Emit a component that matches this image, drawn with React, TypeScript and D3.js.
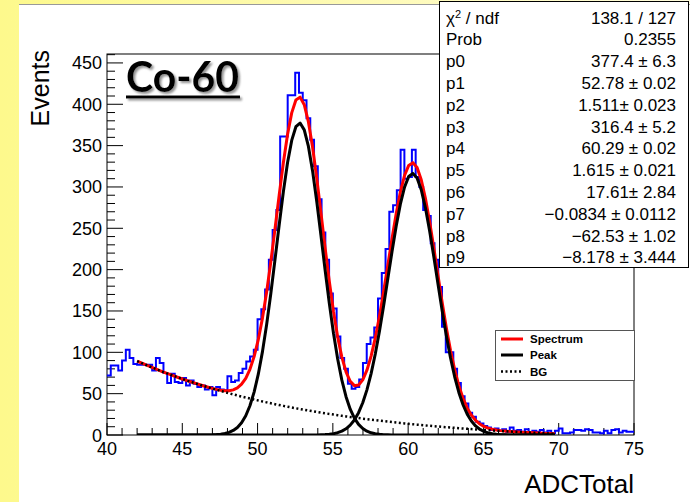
import React from 'react';
import * as d3 from 'd3';

// ---- data ----
const histLow = 40;
const histBinWidth = 0.25;
const counts = [
  72, 84, 84, 78, 90, 103, 93, 86, 85, 85,
  85, 85, 78, 93, 87, 75, 63, 74, 64, 63,
  69, 60, 66, 62, 58, 60, 55, 58, 48, 58,
  55, 54, 71, 64, 66, 75, 80, 89, 95, 103,
  140, 152, 176, 212, 248, 272, 361, 361, 411, 411,
  438, 414, 405, 383, 357, 325, 285, 245, 212, 171,
  153, 119, 93, 80, 62, 56, 58, 67, 87, 110,
  118, 130, 165, 196, 225, 270, 278, 296, 345, 310,
  312, 345, 312, 300, 272, 265, 232, 212, 179, 131,
  100, 100, 80, 63, 47, 38, 27, 22, 16, 14,
  11, 9, 6, 8, 5, 7, 4, 9, 5, 6,
  4, 7, 3, 5, 4, 6, 3, 5, 2, 5,
  8, 2, 2, 3, 6, 6, 5, 7, 6, 3,
  3, 2, 5, 2, 6, 7, 3, 5, 4, 4,
];
const fitParams = [377.4, 52.78, 1.511, 316.4, 60.29, 1.615, 17.61, -0.0834, -62.53, -8.178];
const fitRange = [42, 69.75];
const xTicks = [40, 45, 50, 55, 60, 65, 70, 75];
const yTicks = [0, 50, 100, 150, 200, 250, 300, 350, 400, 450];
const statLabels = ['p0', 'p1', 'p2', 'p3', 'p4', 'p5', 'p6', 'p7', 'p8', 'p9'];
const statValues = [
  '377.4 \u00b1 6.3', '52.78 \u00b1 0.02', '1.511\u00b1 0.023', '316.4 \u00b1 5.2', '60.29 \u00b1 0.02',
  '1.615 \u00b1 0.021', '17.61\u00b1 2.84', '\u22120.0834 \u00b1 0.0112', '\u221262.53 \u00b1 1.02', '\u22128.178 \u00b1 3.444',
];
const chiValue = '138.1 / 127';
const probValue = '0.2355';
const legendLabels = ['Spectrum', 'Peak', 'BG'];

const W = 690, H = 502;
const FONT = "'Liberation Sans', Arial, Helvetica, sans-serif";

export default function App() {
  const x = d3.scaleLinear().domain([40, 75]).range([107, 634]);
  const y = d3.scaleLinear().domain([0, 460.8]).range([435, 54]);

  const [p0, p1, p2, p3, p4, p5, p6, p7, p8, p9] = fitParams;
  const g1 = (v: number) => p0 * Math.exp(-0.5 * ((v - p1) / p2) ** 2);
  const g2 = (v: number) => p3 * Math.exp(-0.5 * ((v - p4) / p5) ** 2);
  const bg = (v: number) => p6 * Math.exp(p7 * (v + p8)) + p9;
  const total = (v: number) => g1(v) + g2(v) + bg(v);

  const npx = 100;
  const samples = d3.range(npx + 1).map((i) => fitRange[0] + (i * (fitRange[1] - fitRange[0])) / npx);
  const curve = (f: (v: number) => number) =>
    d3.line<number>().x((v) => x(v)).y((v) => y(Math.max(0, f(v))))(samples) || '';

  const histPts: [number, number][] = counts.map((c, i) => [histLow + i * histBinWidth, c]);
  histPts.push([histLow + counts.length * histBinWidth, counts[counts.length - 1]]);
  const histPath = d3.line<[number, number]>().x((d) => x(d[0])).y((d) => y(d[1])).curve(d3.curveStepAfter)(histPts) || '';

  const xMinor = d3.range(40, 75.001, 1);
  const yMinor = d3.range(0, 460.8, 10);

  const boxX = 439, boxY = 1, boxW = 249, boxH = 266;
  const rowY = (i: number) => 23.5 + i * 21.8;
  const allLabels = ['', 'Prob', ...statLabels];
  const allValues = [chiValue, probValue, ...statValues];

  const legX = 495, legY = 330;
  const legRows = [339, 355, 371.5];

  return (
    <div style={{ position: 'absolute', left: 0, top: 0 }}>
      <svg width={W} height={H} style={{ display: 'block' }}>
        <defs>
          <linearGradient id="yel" x1="0" y1="0" x2="1" y2="0">
            <stop offset="0" stopColor="#fdf98c" />
            <stop offset="1" stopColor="#fffcdc" />
          </linearGradient>
          <filter id="shadow" x="-10%" y="-10%" width="130%" height="140%">
            <feDropShadow dx="2" dy="2" stdDeviation="1.2" floodColor="#777" floodOpacity="0.8" />
          </filter>
          <clipPath id="plotClip">
            <rect x={107} y={54} width={527} height={381} />
          </clipPath>
        </defs>
        <rect x={0} y={0} width={W} height={H} fill="url(#yel)" />
        <rect x={19} y={4} width={W - 19} height={H - 4} fill="#ffffff" />
        <line x1={19} y1={4.5} x2={W} y2={4.5} stroke="#999" strokeWidth={1} />

        {/* frame */}
        <rect x={107} y={54} width={527} height={381} fill="none" stroke="#000" strokeWidth={1} />

        {/* ticks */}
        {yMinor.map((v) => (
          <line key={'ym' + v} x1={107} x2={v % 50 === 0 ? 123 : 115} y1={y(v)} y2={y(v)} stroke="#000" strokeWidth={1} />
        ))}
        {xMinor.map((v) => (
          <line key={'xm' + v} x1={x(v)} x2={x(v)} y1={435} y2={v % 5 === 0 ? 423 : 428} stroke="#000" strokeWidth={1} />
        ))}
        {yTicks.map((v) => (
          <text key={'yl' + v} x={102} y={y(v) + 6.5} textAnchor="end" fontFamily={FONT} fontSize={18} fill="#000">{v}</text>
        ))}
        {xTicks.map((v) => (
          <text key={'xl' + v} x={x(v)} y={455} textAnchor="middle" fontFamily={FONT} fontSize={18} fill="#000">{v}</text>
        ))}

        {/* axis titles */}
        <text transform="translate(49,50) rotate(-90)" textAnchor="end" fontFamily={FONT} fontSize={25} fill="#000">Events</text>
        <text x={634} y={493} textAnchor="end" fontFamily={FONT} fontSize={26} fill="#000">ADCTotal</text>

        {/* histogram and fits */}
        <g clipPath="url(#plotClip)">
          <path d={histPath} fill="none" stroke="#0000ff" strokeWidth={2} />
          <path d={curve(total)} fill="none" stroke="#ff0000" strokeWidth={3} strokeLinejoin="round" />
          <path d={curve(g1)} fill="none" stroke="#000" strokeWidth={3} strokeLinejoin="round" />
          <path d={curve(g2)} fill="none" stroke="#000" strokeWidth={3} strokeLinejoin="round" />
          <path d={curve(bg)} fill="none" stroke="#000" strokeWidth={2.5} strokeDasharray="2,2.5" />
        </g>

        {/* title */}
        <g filter="url(#shadow)">
          <text x={126} y={92} fontFamily="Lato, 'Open Sans', sans-serif" fontWeight={700} fontSize={42} textLength={113} lengthAdjust="spacingAndGlyphs" fill="#000">Co-60</text>
          <rect x={126} y={95.5} width={114} height={3} fill="#000" />
        </g>

        {/* stats box */}
        <rect x={boxX + 0.5} y={boxY + 0.5} width={boxW} height={boxH} fill="#fff" stroke="#000" strokeWidth={1} />
        <text x={446} y={rowY(0)} fontFamily={FONT} fontSize={17} fill="#000">
          <tspan>{'\u03c7'}</tspan>
          <tspan dy={-6} fontSize={11}>2</tspan>
          <tspan dy={6}>{' / ndf'}</tspan>
        </text>
        {allLabels.map((l, i) => (i === 0 ? null : (
          <text key={'sl' + i} x={446} y={rowY(i)} fontFamily={FONT} fontSize={17} fill="#000">{l}</text>
        )))}
        {allValues.map((v, i) => (
          <text key={'sv' + i} x={676} y={rowY(i)} textAnchor="end" fontFamily={FONT} fontSize={17} fill="#000">{v}</text>
        ))}

        {/* legend */}
        <rect x={legX + 0.5} y={legY + 0.5} width={139} height={50} fill="#fff" stroke="#555" strokeWidth={1} />
        <line x1={501} x2={523} y1={legRows[0]} y2={legRows[0]} stroke="#ff0000" strokeWidth={3} />
        <line x1={501} x2={523} y1={legRows[1]} y2={legRows[1]} stroke="#000" strokeWidth={3} />
        <line x1={501} x2={523} y1={legRows[2]} y2={legRows[2]} stroke="#000" strokeWidth={2.5} strokeDasharray="2,2.5" />
        {legendLabels.map((l, i) => (
          <text key={'lg' + l} x={530} y={legRows[i] + 4} fontFamily={FONT} fontWeight={700} fontSize={11.5} fill="#000">{l}</text>
        ))}
      </svg>
    </div>
  );
}
